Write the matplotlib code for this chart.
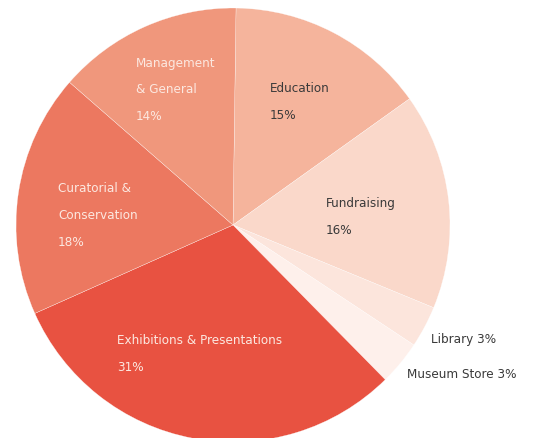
import matplotlib
matplotlib.use("Agg")
import matplotlib.pyplot as plt

categories = ["Education", "Fundraising", "Library", "Museum Store",
              "Exhibitions & Presentations", "Curatorial & Conservation",
              "Management & General"]
values = [14.9, 16.1, 3.1, 3.3, 30.7, 18.1, 13.8]
colors = ["#F5B49C", "#FAD8CA", "#FCE5DC", "#FEF0EB", "#E85241", "#EC7860", "#F0977C"]

# label lines (text, x, y, color) in pixel coords from top-left
labels = [
    (["Management", "& General", "14%"], 136, 63, "#FCE8E0"),
    (["Education", "15%"], 270, 89, "#3A3A3A"),
    (["Curatorial &", "Conservation", "18%"], 58, 189, "#FCE8E0"),
    (["Fundraising", "16%"], 326, 204, "#3A3A3A"),
    (["Exhibitions & Presentations", "31%"], 117, 341, "#FCE8E0"),
    (["Library 3%"], 431, 339, "#3A3A3A"),
    (["Museum Store 3%"], 407, 374, "#3A3A3A"),
]

W, H = 537, 438
fig = plt.figure(figsize=(W / 100, H / 100), dpi=100)
ax = fig.add_axes([0, 0, 1, 1])
cx, cy, r = 233, 225, 217
ax.pie(values, colors=colors, startangle=89.2, counterclock=False,
       center=(cx, H - cy), radius=r,
       wedgeprops=dict(edgecolor="white", linewidth=0.2))
ax.set_xlim(0, W)
ax.set_ylim(0, H)
ax.set_aspect("equal")
ax.axis("off")

step = 26.5
for lines, x, y, col in labels:
    for i, t in enumerate(lines):
        ax.text(x, H - (y + i * step), t, ha="left", va="center",
                fontsize=9.6, color=col, family="DejaVu Sans",
                stretch="condensed")

fig.savefig("out.png", dpi=100)
